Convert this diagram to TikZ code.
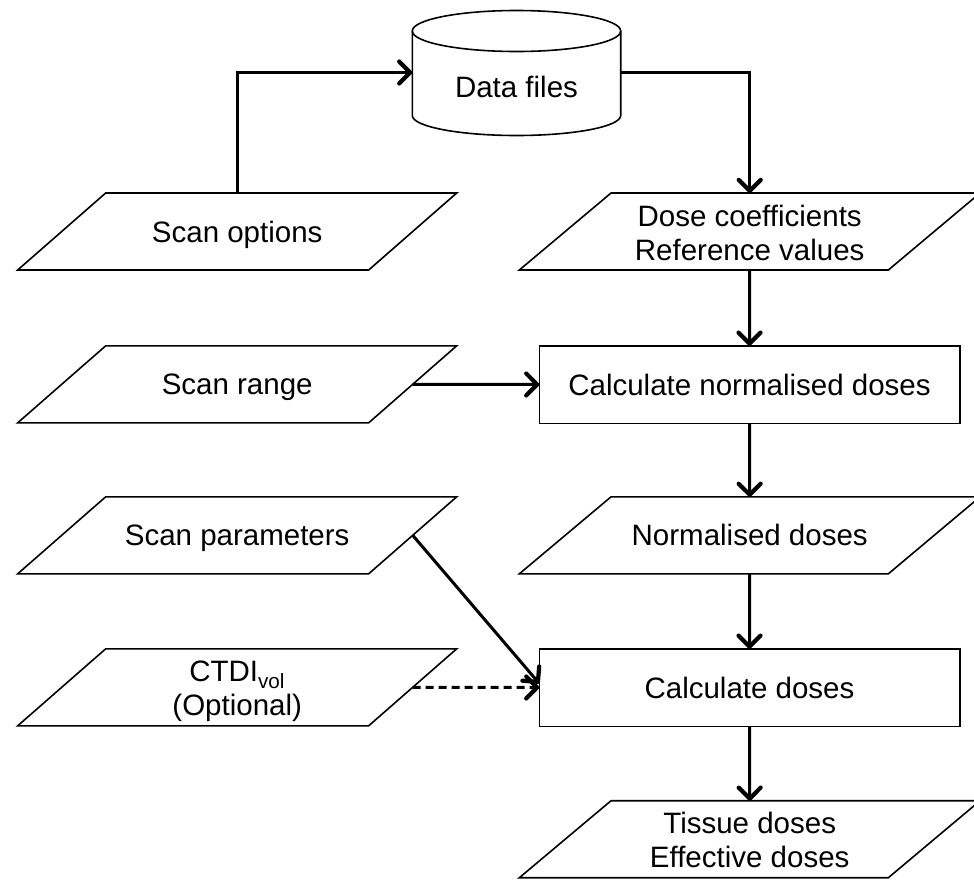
\documentclass[tikz,border=0pt]{standalone}
\usepackage{fontspec}
\setmainfont{Liberation Sans}
\usetikzlibrary{arrows.meta}
\newcommand\drawpara[2]{%
  \draw[boxline] (#1.south west) -- ([xshift=#2]#1.north west) -- (#1.north east) -- ([xshift=-#2]#1.south east) -- cycle;}
\begin{document}
\begin{tikzpicture}[x=1pt,y=-1pt,
  every node/.style={font=\fontsize{29.5}{34}\selectfont, align=center, inner sep=0pt, outer sep=0pt},
  oneline/.style={text height=21.2pt, text depth=0pt},
  twoline/.style={text height=57pt, text depth=0pt},
  boxline/.style={draw=black, line width=1.6pt, line join=miter},
  lpara/.style={rectangle, minimum width=439pt, minimum height=77pt},
  rpara/.style={rectangle, minimum width=460.7pt, minimum height=77pt},
  procbox/.style={boxline, rectangle, minimum width=420.4pt, minimum height=77.6pt, oneline},
  flow/.style={line width=3pt, -{Straight Barb[length=11pt,width=22pt,line width=4.2pt,round]}},
]
\path[use as bounding box, clip] (0,0) rectangle (974,879);
\fill[white] (0,0) rectangle (974,879);

% cylinder
\draw[boxline, fill=white] (412.3,31) -- (412.3,115.5) arc[start angle=180, end angle=0, x radius=104.2, y radius=20] -- (620.7,31);
\draw[boxline] (516.5,31) ellipse [x radius=104.2, y radius=20.5];
\node[minimum width=208.4pt, minimum height=84.5pt] (data) at (516.5,72.5) {};
\node[oneline] (datalabel) at (516.5,86.5) {Data files};

% inputs (left)
\node[lpara, oneline] (so) at (237.2,231.5) {Scan options};
\node[lpara, oneline] (sr) at (237.2,384.3) {Scan range};
\node[lpara, oneline] (sp) at (237.2,535.3) {Scan parameters};
\node[lpara, twoline] (ct) at (237.2,687.3) {CTDI\textsubscript{vol}\\(Optional)};
\foreach \n in {so,sr,sp,ct} {\drawpara{\n}{88pt}}

% right column
\node[rpara, twoline] (dc) at (749.7,231.5) {Dose coefficients\\Reference values};
\node[procbox] (cn) at (749.5,384.5) {Calculate normalised doses};
\node[rpara, oneline] (nd) at (749.7,535.3) {Normalised doses};
\node[procbox] (cd) at (749.5,687.5) {Calculate doses};
\node[rpara, twoline] (td) at (749.7,839.2) {Tissue doses\\Effective doses};
\foreach \n in {dc,nd,td} {\drawpara{\n}{91.7pt}}

% connectors
\draw[flow] (so.north) |- (data.west);
\draw[flow] (data.east) -| (dc.north);
\draw[flow] (dc.south) -- (cn.north);
\draw[flow] ([xshift=-44pt]sr.east) -- (cn.west);
\draw[flow] (cn.south) -- (nd.north);
\draw[flow] (nd.south) -- (cd.north);
\draw[flow] ([xshift=-44pt]sp.east) -- ([yshift=4pt]cd.west);
\draw[flow, dash pattern=on 8pt off 5pt] ([xshift=-44pt]ct.east) -- (cd.west);
\draw[flow] (cd.south) -- (td.north);
\end{tikzpicture}
\end{document}
